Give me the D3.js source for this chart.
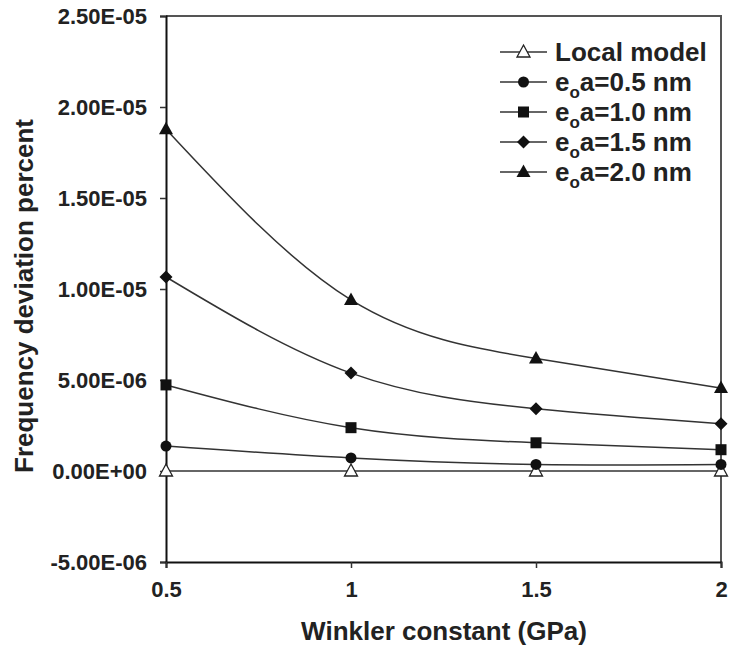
<!DOCTYPE html>
<html>
<head>
<meta charset="utf-8">
<script src="https://cdn.jsdelivr.net/npm/d3@7"></script>
<style>
  html, body { margin: 0; padding: 0; background: #fff; }
  svg { display: block; }
  text { font-family: "Liberation Sans", Arial, sans-serif; font-weight: bold; fill: #222; }
</style>
</head>
<body>
<svg id="chart" width="729" height="645"></svg>
<script>
// Winkler constant (GPa)
const winkler = [0.5, 1, 1.5, 2];

// Frequency deviation percent for each nonlocal parameter
const localModel = [0, 0, 0, 0];
const eoa05 = [1.37e-6, 0.72e-6, 0.36e-6, 0.36e-6];
const eoa10 = [4.73e-6, 2.38e-6, 1.55e-6, 1.17e-6];
const eoa15 = [10.66e-6, 5.38e-6, 3.42e-6, 2.60e-6];
const eoa20 = [18.78e-6, 9.40e-6, 6.18e-6, 4.56e-6];

const seriesNames = ["Local model", "0.5 nm", "1.0 nm", "1.5 nm", "2.0 nm"];
const seriesMarkers = ["triangleOpen", "circle", "square", "diamond", "triangle"];
const seriesValues = [localModel, eoa05, eoa10, eoa15, eoa20];

const yTickValues = [-5e-6, 0, 5e-6, 1e-5, 1.5e-5, 2e-5, 2.5e-5];
const yTickLabels = ["-5.00E-06", "0.00E+00", "5.00E-06", "1.00E-05", "1.50E-05", "2.00E-05", "2.50E-05"];
const xTickValues = [0.5, 1, 1.5, 2];
const xTickLabels = ["0.5", "1", "1.5", "2"];

const svg = d3.select("#chart");
const plotLeft = 166, plotRight = 721, plotTop = 16, plotBottom = 562;

const x = d3.scaleLinear().domain([0.5, 2]).range([plotLeft, plotRight]);
const y = d3.scaleLinear().domain([-5e-6, 2.5e-5]).range([plotBottom, plotTop]);

// frame (top and right edges)
svg.append("path")
  .attr("d", `M${plotLeft},${plotTop}H${plotRight}V${plotBottom}`)
  .attr("fill", "none").attr("stroke", "#555").attr("stroke-width", 2);

// y axis
const yAxis = svg.append("g")
  .attr("transform", `translate(${plotLeft},0)`)
  .call(d3.axisLeft(y).tickValues(yTickValues)
    .tickFormat((d, i) => yTickLabels[i]).tickSizeOuter(0).tickSize(6).tickPadding(13));
// x axis
const xAxis = svg.append("g")
  .attr("transform", `translate(0,${plotBottom})`)
  .call(d3.axisBottom(x).tickValues(xTickValues)
    .tickFormat((d, i) => xTickLabels[i]).tickSizeOuter(0).tickSize(6).tickPadding(8));

[yAxis, xAxis].forEach(g => {
  g.select(".domain").attr("stroke", "#111").attr("stroke-width", 2);
  g.selectAll(".tick line").attr("stroke", "#333").attr("stroke-width", 1.5);
  g.selectAll(".tick text")
    .style("font-family", "'Liberation Sans', Arial, sans-serif")
    .style("font-weight", "bold").style("font-size", "22px").attr("fill", "#222");
});
xAxis.selectAll(".tick text").attr("dy", "0.95em");

// axis titles
svg.append("text")
  .attr("x", 444).attr("y", 640)
  .attr("text-anchor", "middle").style("font-size", "26px")
  .text("Winkler constant (GPa)");
svg.append("text")
  .attr("transform", `translate(33,296) rotate(-90)`)
  .attr("text-anchor", "middle").style("font-size", "26px")
  .text("Frequency deviation percent");

// marker drawing
function drawMarker(g, type, cx, cy) {
  if (type === "circle") {
    g.append("circle").attr("cx", cx).attr("cy", cy).attr("r", 5.5).attr("fill", "#111");
  } else if (type === "square") {
    g.append("rect").attr("x", cx - 5.5).attr("y", cy - 5.5).attr("width", 11).attr("height", 11).attr("fill", "#111");
  } else if (type === "diamond") {
    g.append("path").attr("d", `M${cx},${cy - 6.5}L${cx + 6.5},${cy}L${cx},${cy + 6.5}L${cx - 6.5},${cy}Z`).attr("fill", "#111");
  } else if (type === "triangle") {
    g.append("path").attr("d", `M${cx},${cy - 7.5}L${cx + 7},${cy + 5}L${cx - 7},${cy + 5}Z`).attr("fill", "#111");
  } else {
    g.append("path").attr("d", `M${cx},${cy - 7}L${cx + 6.5},${cy + 5}L${cx - 6.5},${cy + 5}Z`)
      .attr("fill", "#fff").attr("stroke", "#222").attr("stroke-width", 1.3);
  }
}

const line = d3.line()
  .x((d, i) => x(winkler[i]))
  .y(d => y(d))
  .curve(d3.curveNatural);

const plot = svg.append("g");
seriesValues.forEach((vals, s) => {
  plot.append("path")
    .attr("d", line(vals))
    .attr("fill", "none").attr("stroke", "#333").attr("stroke-width", 1.5);
});
seriesValues.forEach((vals, s) => {
  vals.forEach((v, i) => drawMarker(plot, seriesMarkers[s], x(winkler[i]), y(v)));
});

// legend
const legend = svg.append("g");
const rowY = [52, 82, 112, 142, 172];
seriesNames.forEach((name, s) => {
  const cy = rowY[s];
  legend.append("line").attr("x1", 500).attr("x2", 547).attr("y1", cy).attr("y2", cy)
    .attr("stroke", "#333").attr("stroke-width", 1.5);
  drawMarker(legend, seriesMarkers[s], 523.5, cy);
  const t = legend.append("text").attr("x", 555).attr("y", cy + 9).style("font-size", "26px");
  if (s === 0) {
    t.text(name);
  } else {
    t.append("tspan").text("e");
    t.append("tspan").attr("dy", 7).style("font-size", "17px").text("o");
    t.append("tspan").attr("dy", -7).text("a=" + name);
  }
});
</script>
</body>
</html>
